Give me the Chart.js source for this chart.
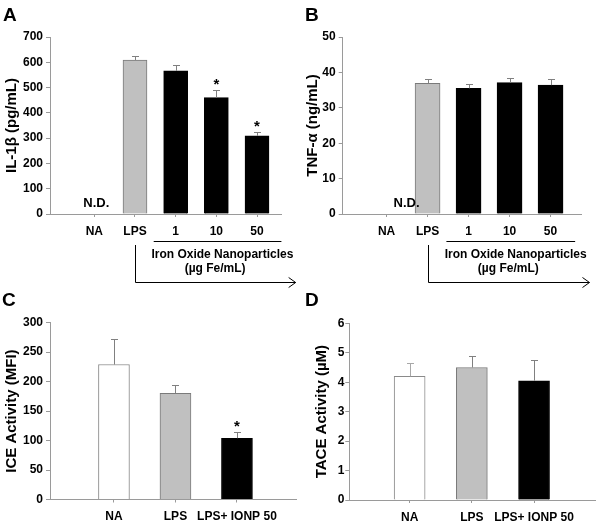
<!DOCTYPE html>
<html>
<head>
<meta charset="utf-8">
<script src="https://cdn.jsdelivr.net/npm/chart.js@4.4.0/dist/chart.umd.min.js"></script>
<style>
  body { margin: 0; background: #fff; width: 600px; height: 525px; position: relative; overflow: hidden; }
  canvas { position: absolute; }
</style>
</head>
<body>
<canvas id="chartA" width="300" height="295" style="left:0;top:0"></canvas>
<canvas id="chartB" width="300" height="295" style="left:300px;top:0"></canvas>
<canvas id="chartC" width="300" height="240" style="left:0;top:285px"></canvas>
<canvas id="chartD" width="300" height="240" style="left:300px;top:285px"></canvas>
<script>
// panel A - IL-1b
var categoriesA = ['NA', 'LPS', '1', '10', '50'];
var meansA = [0, 609, 566, 460, 309];
var errorsA = [0, 16, 24, 30, 17];
var notesA = ['N.D.', '', '', '*', '*'];

// panel B - TNF-a
var categoriesB = ['NA', 'LPS', '1', '10', '50'];
var meansB = [0, 36.9, 35.5, 37.1, 36.4];
var errorsB = [0, 1.15, 1.1, 1.2, 1.65];
var notesB = ['N.D.', '', '', '', ''];

// panel C - ICE activity
var categoriesC = ['NA', 'LPS', 'LPS+ IONP 50'];
var meansC = [229, 180, 104];
var errorsC = [43, 14, 10];
var notesC = ['', '', '*'];

// panel D - TACE activity
var categoriesD = ['NA', 'LPS', 'LPS+ IONP 50'];
var meansD = [4.2, 4.5, 4.05];
var errorsD = [0.44, 0.4, 0.7];
var notesD = ['', '', ''];

var bracketText = ['Iron Oxide Nanoparticles', '(\u00b5g Fe/mL)'];

Chart.defaults.font.family = '"Liberation Sans", Arial, sans-serif';
var AXIS = '#9a9a9a';
var FONT = '"Liberation Sans", Arial, sans-serif';

var extras = {
    id: 'extras',
    afterDraw: function (chart) {
        var p = chart.options.plugins.extras;
        var ctx = chart.ctx;
        var xs = chart.scales.x, ys = chart.scales.y;
        ctx.save();
        // error bars
        p.means.forEach(function (m, i) {
            if (!p.errors[i]) return;
            var x = xs.getPixelForValue(i);
            var y0 = ys.getPixelForValue(m);
            var y1 = Math.round(ys.getPixelForValue(m + p.errors[i])) + 0.5;
            ctx.strokeStyle = p.errColors[i];
            ctx.lineWidth = 1;
            ctx.beginPath();
            ctx.moveTo(Math.round(x) + 0.5, y0);
            ctx.lineTo(Math.round(x) + 0.5, y1);
            ctx.moveTo(Math.round(x) - 3, y1);
            ctx.lineTo(Math.round(x) + 4, y1);
            ctx.stroke();
        });
        // N.D. and asterisks
        ctx.fillStyle = '#000';
        ctx.textAlign = 'center';
        p.notes.forEach(function (n, i) {
            if (!n) return;
            var x = xs.getPixelForValue(i);
            if (n === '*') {
                ctx.font = 'bold 15px ' + FONT;
                ctx.textBaseline = 'alphabetic';
                ctx.fillText(n, x, ys.getPixelForValue(p.means[i] + p.errors[i]) - 1);
            } else {
                ctx.font = 'bold 13px ' + FONT;
                ctx.textBaseline = 'middle';
                ctx.fillText(n, x + p.ndShift, ys.getPixelForValue(0) - 11);
            }
        });
        // panel letter
        ctx.font = 'bold 19px ' + FONT;
        ctx.textAlign = 'left';
        ctx.textBaseline = 'alphabetic';
        ctx.fillText(p.letter, p.letterX, 21);
        // bracket under the nanoparticle doses
        if (p.bracket) {
            var lineY = 241.5, bottomY = 282.5;
            var vx = Math.round(xs.getPixelForValue(1)) + 0.5;
            var endX = xs.getPixelForValue(4.95);
            ctx.strokeStyle = '#000';
            ctx.lineWidth = 1;
            ctx.beginPath();
            ctx.moveTo(xs.getPixelForValue(1.46), lineY);
            ctx.lineTo(xs.getPixelForValue(4.6), lineY);
            ctx.moveTo(vx, 245);
            ctx.lineTo(vx, bottomY);
            ctx.lineTo(endX, bottomY);
            ctx.moveTo(endX - 7, bottomY - 5);
            ctx.lineTo(endX, bottomY);
            ctx.lineTo(endX - 7, bottomY + 5);
            ctx.stroke();
            ctx.font = 'bold 12px ' + FONT;
            ctx.textAlign = 'center';
            ctx.textBaseline = 'middle';
            ctx.fillText(bracketText[0], xs.getPixelForValue(3.15), 255);
            ctx.fillText(bracketText[1], xs.getPixelForValue(2.97), 269);
        }
        ctx.restore();
    }
};

function makePanel(id, p) {
    var canvas = document.getElementById(id);
    var W = canvas.width, H = canvas.height;
    var xAxisH = 30;
    return new Chart(canvas, {
        type: 'bar',
        data: {
            datasets: [{
                data: p.means.map(function (v, i) { return {x: i, y: v}; }),
                backgroundColor: p.fills,
                borderColor: p.borders,
                borderWidth: 1,
                borderSkipped: 'bottom',
                barThickness: p.barWidth
            }]
        },
        options: {
            responsive: false,
            animation: false,
            layout: {padding: {left: 0, top: p.area.top, right: W - p.area.right, bottom: H - p.area.bottom - xAxisH}},
            plugins: {legend: {display: false}, tooltip: {enabled: false}, extras: p},
            scales: {
                x: {
                    type: 'linear',
                    offset: false,
                    min: p.xMin,
                    max: p.xMax,
                    afterBuildTicks: function (s) {
                        s.ticks = p.categories.map(function (c, i) { return {value: i}; });
                    },
                    afterFit: function (s) { s.height = xAxisH; },
                    grid: {drawOnChartArea: false, offset: false, tickLength: 3, color: AXIS},
                    border: {color: AXIS},
                    ticks: {
                        padding: 7, color: '#000', maxRotation: 0, autoSkip: false,
                        font: {size: 12, weight: 'bold'},
                        callback: function (v) { return p.categories[v]; }
                    }
                },
                y: {
                    min: 0,
                    max: p.yMax,
                    afterFit: function (s) { s.width = p.area.left; },
                    grid: {drawOnChartArea: false, tickLength: 4, color: AXIS},
                    border: {color: AXIS},
                    ticks: {stepSize: p.yStep, padding: p.tickPad, color: '#000', font: {size: 12, weight: 'bold'}},
                    title: {
                        display: true, text: p.title, color: '#000',
                        font: {size: 15, weight: 'bold'},
                        padding: {top: p.titlePad, bottom: 0}
                    }
                }
            }
        },
        plugins: [extras]
    });
}

var GREY = '#c0c0c0', GREY_EDGE = '#7a7a7a';

makePanel('chartA', {
    letter: 'A', letterX: 3, categories: categoriesA, means: meansA, errors: errorsA, notes: notesA,
    area: {left: 50, top: 37, right: 281, bottom: 214}, xMin: -1.09, xMax: 4.59,
    yMax: 700, yStep: 100, tickPad: 3, title: 'IL-1\u03b2 (pg/mL)', titlePad: 2.5,
    barWidth: 24, ndShift: 2, bracket: true,
    fills: ['#fff', GREY, '#000', '#000', '#000'], borders: ['#fff', GREY_EDGE, '#000', '#000', '#000'],
    errColors: ['#888', '#808080', '#808080', '#808080', '#808080']
});

makePanel('chartB', {
    letter: 'B', letterX: 5, categories: categoriesB, means: meansB, errors: errorsB, notes: notesB,
    area: {left: 42.7, top: 37, right: 281.7, bottom: 214}, xMin: -1.07, xMax: 4.76,
    yMax: 50, yStep: 10, tickPad: 3, title: 'TNF-\u03b1 (ng/mL)', titlePad: 4,
    barWidth: 25, ndShift: 20, bracket: true,
    fills: ['#fff', GREY, '#000', '#000', '#000'], borders: ['#fff', GREY_EDGE, '#000', '#000', '#000'],
    errColors: ['#888', '#808080', '#808080', '#808080', '#808080']
});

makePanel('chartC', {
    letter: 'C', letterX: 2, categories: categoriesC, means: meansC, errors: errorsC, notes: notesC,
    area: {left: 50, top: 37.7, right: 296, bottom: 214.5}, xMin: -1.04, xMax: 2.96,
    yMax: 300, yStep: 50, tickPad: 3, title: 'ICE Activity (MFI)', titlePad: 2.7,
    barWidth: 31, ndShift: 0, bracket: false,
    fills: ['#fff', GREY, '#000'], borders: ['#8a8a8a', GREY_EDGE, '#000'],
    errColors: ['#808080', '#808080', '#808080']
});

makePanel('chartD', {
    letter: 'D', letterX: 5, categories: categoriesD, means: meansD, errors: errorsD, notes: notesD,
    area: {left: 49.3, top: 38.3, right: 295, bottom: 215}, xMin: -0.97, xMax: 2.98,
    yMax: 6, yStep: 1, tickPad: 1, title: 'TACE Activity (\u00b5M)', titlePad: 12.7,
    barWidth: 31, ndShift: 0, bracket: false,
    fills: ['#fff', GREY, '#000'], borders: ['#8a8a8a', GREY_EDGE, '#000'],
    errColors: ['#a8a8a8', '#808080', '#808080']
});
</script>
</body>
</html>
